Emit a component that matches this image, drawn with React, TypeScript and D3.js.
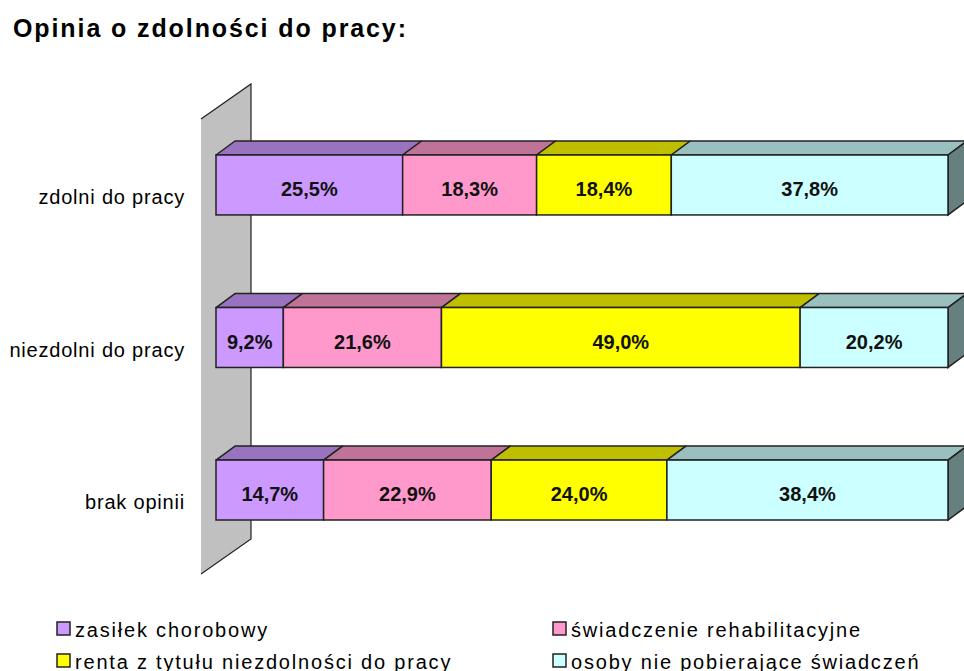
import React from "react";
import * as d3 from "d3";

const categories = ["zdolni do pracy", "niezdolni do pracy", "brak opinii"];
const seriesNames = [
  "zasiłek chorobowy",
  "świadczenie rehabilitacyjne",
  "renta z tytułu niezdolności do pracy",
  "osoby nie pobierające świadczeń",
];
const zasilek = [25.5, 9.2, 14.7];
const swiadczenie = [18.3, 21.6, 22.9];
const renta = [18.4, 49.0, 24.0];
const osoby = [37.8, 20.2, 38.4];
const title = "Opinia o zdolności do pracy:";

const frontColors = ["#CC99FF", "#FF99CC", "#FFFF00", "#CCFFFF"];

const W = 964;
const H = 671;
const DX = 19;
const DY = -14;
const FONT = "'Liberation Sans', Arial, sans-serif";

export default function App() {
  const keys = ["s0", "s1", "s2", "s3"];
  const allSeries = [zasilek, swiadczenie, renta, osoby];
  const rows = categories.map((c, i) => {
    const r: any = { cat: c };
    keys.forEach((k, j) => (r[k] = allSeries[j][i]));
    return r;
  });
  const stacked = d3.stack().keys(keys)(rows);

  const x = d3.scaleLinear().domain([0, 100]).range([216, 948]);
  const y = d3
    .scaleBand()
    .domain(categories)
    .range([155, 520])
    .paddingInner(0.607)
    .paddingOuter(0);
  const bh = y.bandwidth();

  const darker = (c: string, k: number) => {
    const col = d3.rgb(c);
    return d3.rgb(col.r * k, col.g * k, col.b * k).toString();
  };
  const fmt = (v: number) => v.toFixed(1).replace(".", ",") + "%";

  const pts = (p: number[][]) => p.map((q) => q.join(",")).join(" ");

  const wallFront = 201;
  const wallBack = 251;
  const wallTopF = 119;
  const wallTopB = 84;
  const wallBotB = 539;
  const wallBotF = 574;

  return (
    <svg
      width={W}
      height={H}
      style={{ position: "absolute", left: 0, top: 0, background: "#fff" }}
    >
      <text
        x={13}
        y={37}
        fontFamily={FONT}
        fontWeight="bold"
        fontSize={25}
        letterSpacing={1.9}
        fill="#000"
      >
        {title}
      </text>

      <polygon
        points={pts([
          [wallFront, wallTopF],
          [wallBack, wallTopB],
          [wallBack, wallBotB],
          [wallFront, wallBotF],
        ])}
        fill="#C0C0C0"
      />
      <polyline
        points={pts([
          [wallFront, wallTopF],
          [wallBack, wallTopB],
          [wallBack, wallBotB],
          [wallFront, wallBotF],
        ])}
        fill="none"
        stroke="#222"
        strokeWidth={1.2}
      />

      {categories.map((c) => (
        <text
          key={c}
          x={185}
          y={(y(c) as number) + 49}
          textAnchor="end"
          fontFamily={FONT}
          fontSize={20}
          letterSpacing={0.8}
          fill="#000"
        >
          {c}
        </text>
      ))}

      {categories.map((c, i) => {
        const y0 = y(c) as number;
        const last = stacked[stacked.length - 1][i];
        const xe = x(last[1]);
        return (
          <g key={c}>
            {stacked.map((s, j) => {
              const d = s[i];
              const x0 = x(d[0]);
              const x1 = x(d[1]);
              return (
                <polygon
                  key={"t" + j}
                  points={pts([
                    [x0, y0],
                    [x0 + DX, y0 + DY],
                    [x1 + DX, y0 + DY],
                    [x1, y0],
                  ])}
                  fill={darker(frontColors[j], 0.75)}
                  stroke="#222"
                  strokeWidth={1.5}
                  strokeLinejoin="round"
                />
              );
            })}
            <polygon
              points={pts([
                [xe, y0],
                [xe + DX, y0 + DY],
                [xe + DX, y0 + DY + bh],
                [xe, y0 + bh],
              ])}
              fill={darker(frontColors[3], 0.5)}
              stroke="#222"
              strokeWidth={1.5}
            />
            {stacked.map((s, j) => {
              const d = s[i];
              const x0 = x(d[0]);
              const x1 = x(d[1]);
              return (
                <g key={"f" + j}>
                  <rect
                    x={x0}
                    y={y0}
                    width={x1 - x0}
                    height={bh}
                    fill={frontColors[j]}
                    stroke="#222"
                    strokeWidth={1.5}
                  />
                  <text
                    x={(x0 + x1) / 2}
                    y={y0 + bh / 2 + 11}
                    textAnchor="middle"
                    fontFamily={FONT}
                    fontWeight="bold"
                    fontSize={20}
                    fill="#111"
                  >
                    {fmt(d[1] - d[0])}
                  </text>
                </g>
              );
            })}
          </g>
        );
      })}

      {seriesNames.map((n, j) => {
        const col = j % 2;
        const row = Math.floor(j / 2);
        const lx = col === 0 ? 57 : 553;
        const ly = 622 + row * 32;
        return (
          <g key={n}>
            <rect
              x={lx}
              y={ly}
              width={13}
              height={13}
              fill={frontColors[j]}
              stroke="#222"
              strokeWidth={1.5}
            />
            <text
              x={lx + 18}
              y={ly + 15}
              fontFamily={FONT}
              fontSize={20}
              letterSpacing={1.8}
              fill="#000"
            >
              {n}
            </text>
          </g>
        );
      })}
    </svg>
  );
}
